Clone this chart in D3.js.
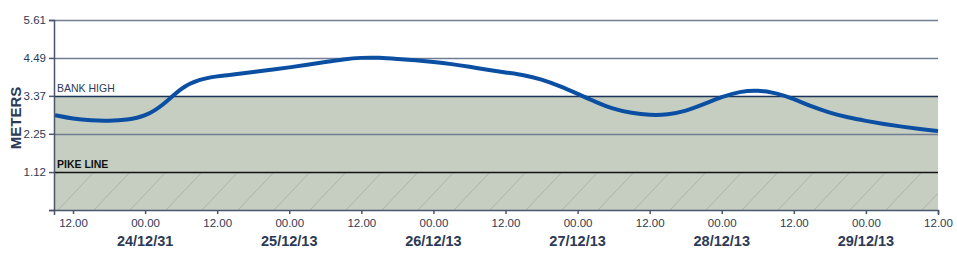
<!DOCTYPE html>
<html>
<head>
<meta charset="utf-8">
<title>River level</title>
<script src="https://cdn.jsdelivr.net/npm/d3@7"></script>
<style>
  body { margin: 0; background: #fff; }
  svg { display: block; font-family: "Liberation Sans", Arial, sans-serif; }
  .tick text { fill: #2c3a56; font-size: 11.5px; }
</style>
</head>
<body>
<svg id="chart"></svg>
<script>
// water level readings, every 3 hours
var times = [
  "2013-12-23T09:00","2013-12-23T12:00","2013-12-23T15:00","2013-12-23T18:00","2013-12-23T21:00",
  "2013-12-24T00:00","2013-12-24T03:00","2013-12-24T06:00","2013-12-24T09:00","2013-12-24T12:00",
  "2013-12-24T15:00","2013-12-24T18:00","2013-12-24T21:00","2013-12-25T00:00","2013-12-25T03:00",
  "2013-12-25T06:00","2013-12-25T09:00","2013-12-25T12:00","2013-12-25T15:00","2013-12-25T18:00",
  "2013-12-25T21:00","2013-12-26T00:00","2013-12-26T03:00","2013-12-26T06:00","2013-12-26T09:00",
  "2013-12-26T12:00","2013-12-26T15:00","2013-12-26T18:00","2013-12-26T21:00","2013-12-27T00:00",
  "2013-12-27T03:00","2013-12-27T06:00","2013-12-27T09:00","2013-12-27T12:00","2013-12-27T15:00",
  "2013-12-27T18:00","2013-12-27T21:00","2013-12-28T00:00","2013-12-28T03:00","2013-12-28T06:00",
  "2013-12-28T09:00","2013-12-28T12:00","2013-12-28T15:00","2013-12-28T18:00","2013-12-28T21:00",
  "2013-12-29T00:00","2013-12-29T03:00","2013-12-29T06:00","2013-12-29T09:00","2013-12-29T12:00"
];
var levels = [
  2.80, 2.69, 2.64, 2.63, 2.66,
  2.76, 3.09, 3.62, 3.86, 3.95,
  4.01, 4.07, 4.14, 4.21, 4.29,
  4.37, 4.45, 4.50, 4.50, 4.46,
  4.42, 4.37, 4.31, 4.23, 4.14,
  4.06, 3.99, 3.86, 3.66, 3.43,
  3.19, 2.98, 2.86, 2.80, 2.81,
  2.92, 3.12, 3.34, 3.50, 3.54,
  3.46, 3.28, 3.05, 2.87, 2.73,
  2.63, 2.54, 2.46, 2.39, 2.33
];
var yTicks = [1.12, 2.25, 3.37, 4.49, 5.61];
var bankHigh = 3.37;
var pikeLine = 1.12;
var dayTicks = ["2013-12-24T00:00","2013-12-25T00:00","2013-12-26T00:00","2013-12-27T00:00","2013-12-28T00:00","2013-12-29T00:00"];
var dayLabels = ["24/12/31","25/12/13","26/12/13","27/12/13","28/12/13","29/12/13"];

var width = 957, height = 254;
var mLeft = 54, mRight = 938, mTop = 20, mBottom = 210;

var parse = d3.timeParse("%Y-%m-%dT%H:%M");
var data = times.map(function(t, i) { return {t: parse(t), v: levels[i]}; });

var svg = d3.select("#chart").attr("width", width).attr("height", height);

var x = d3.scaleTime()
  .domain([parse("2013-12-23T08:50"), parse("2013-12-29T12:00")])
  .range([mLeft, mRight]);
var y = d3.scaleLinear().domain([0, 5.61]).range([mBottom, mTop]);

// hatch pattern for below pike line
var defs = svg.append("defs");
var pat = defs.append("pattern")
  .attr("id", "hatch")
  .attr("patternUnits", "userSpaceOnUse")
  .attr("width", 36).attr("height", 38)
  .attr("x", mLeft + 4).attr("y", y(pikeLine));
pat.append("rect").attr("width", 36).attr("height", 38).attr("fill", "#c6cec2");
pat.append("line").attr("x1", 0).attr("y1", 38).attr("x2", 36).attr("y2", 0)
  .attr("stroke", "#a9b3a6").attr("stroke-width", 1);

// bank zone fill
svg.append("rect")
  .attr("x", mLeft).attr("y", y(bankHigh))
  .attr("width", mRight - mLeft).attr("height", y(pikeLine) - y(bankHigh))
  .attr("fill", "#c6cec2");
svg.append("rect")
  .attr("x", mLeft).attr("y", y(pikeLine))
  .attr("width", mRight - mLeft).attr("height", mBottom - y(pikeLine))
  .attr("fill", "url(#hatch)");

// horizontal lines
svg.append("g").selectAll("line")
  .data(yTicks)
  .enter().append("line")
  .attr("x1", mLeft).attr("x2", mRight)
  .attr("y1", function(d) { return Math.round(y(d)) + 0.5; })
  .attr("y2", function(d) { return Math.round(y(d)) + 0.5; })
  .attr("stroke", function(d) {
    if (d == pikeLine) return "#111";
    if (d == bankHigh) return "#1e3358";
    return "#6f7c92";
  })
  .attr("stroke-width", 1.5);

svg.append("text").attr("x", mLeft + 3).attr("y", y(bankHigh) - 4)
  .attr("font-size", 10.5).attr("fill", "#2c3a56").text("BANK HIGH");
svg.append("text").attr("x", mLeft + 3).attr("y", y(pikeLine) - 4)
  .attr("font-size", 10.5).attr("font-weight", "bold").attr("fill", "#111").text("PIKE LINE");

// level line
var line = d3.line()
  .x(function(d) { return x(d.t); })
  .y(function(d) { return y(d.v); })
  .curve(d3.curveBasis);
svg.append("path").datum(data)
  .attr("d", line)
  .attr("fill", "none")
  .attr("stroke", "#0b4fa3")
  .attr("stroke-width", 4);

// axes
var y_axis = d3.axisLeft(y).tickValues([0].concat(yTicks))
  .tickFormat(function(d) { return d == 0 ? "" : d3.format(".2f")(d); })
  .tickSize(5).tickPadding(3);
var gy = svg.append("g").attr("transform", "translate(" + mLeft + ",0)").call(y_axis);
gy.select(".domain").attr("stroke", "#4a566c").attr("stroke-width", 1.5);
gy.selectAll(".tick line").attr("stroke", "#4a566c").attr("stroke-width", 1.5);

var x_axis = d3.axisBottom(x)
  .ticks(d3.timeHour.every(12))
  .tickFormat(d3.timeFormat("%H.00"))
  .tickSizeOuter(5).tickSizeInner(4).tickPadding(5);
var gx = svg.append("g").attr("transform", "translate(0," + mBottom + ")").call(x_axis);
gx.select(".domain").attr("stroke", "#4a566c").attr("stroke-width", 1.5);
gx.selectAll(".tick line").attr("stroke", "#4a566c").attr("stroke-width", 1.5);

svg.append("g").selectAll("text")
  .data(dayTicks)
  .enter().append("text")
  .attr("x", function(d) { return x(parse(d)); })
  .attr("y", 246)
  .attr("text-anchor", "middle")
  .attr("font-size", 14.5).attr("font-weight", "bold").attr("fill", "#2c3a56")
  .text(function(d, i) { return dayLabels[i]; });

svg.append("text")
  .attr("transform", "translate(21," + ((mTop + mBottom) / 2 + 3) + ") rotate(-90)")
  .attr("text-anchor", "middle")
  .attr("font-size", 15).attr("font-weight", "bold").attr("fill", "#2c3a56")
  .text("METERS");
</script>
</body>
</html>
